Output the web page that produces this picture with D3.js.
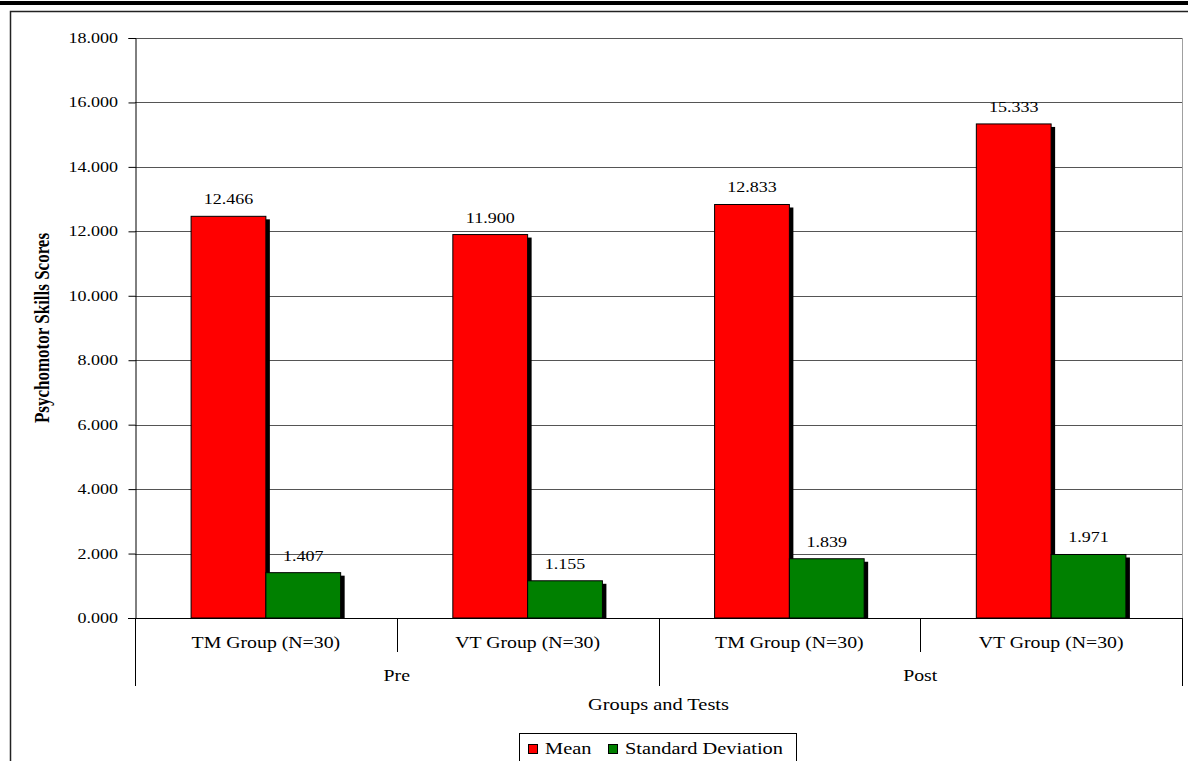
<!DOCTYPE html>
<html>
<head>
<meta charset="utf-8">
<script src="https://cdn.jsdelivr.net/npm/d3@7"></script>
<style>
  html, body { margin: 0; padding: 0; background: #fff; }
  svg { display: block; }
  text { font-family: "Liberation Serif", "Times New Roman", serif; fill: #000; }
</style>
</head>
<body>
<svg id="chart" width="1188" height="761"></svg>
<script>
// Groups, tests and scores
const groups = ["TM Group (N=30)", "VT Group (N=30)", "TM Group (N=30)", "VT Group (N=30)"];
const tests = ["Pre", "Post"];
const seriesNames = ["Mean", "Standard Deviation"];
const meanValues = [12.466, 11.900, 12.833, 15.333];
const sdValues = [1.407, 1.155, 1.839, 1.971];
const yTicks = [0, 2, 4, 6, 8, 10, 12, 14, 16, 18];
const seriesColors = ["#ff0000", "#008000"];

const svg = d3.select("#chart");
const SX = 1.2; // horizontal text stretch

const plotLeft = 135, plotRight = 1182, plotTop = 38, plotBottom = 618;

const y = d3.scaleLinear().domain([0, 18]).range([plotBottom, plotTop]);
const x0 = d3.scaleBand().domain(d3.range(groups.length)).range([plotLeft, plotRight]).padding(0);
const x1 = d3.scaleBand().domain(seriesNames).range([0, x0.bandwidth()])
  .paddingInner(0).paddingOuter(0.75);
const color = d3.scaleOrdinal().domain(seriesNames).range(seriesColors);

function label(g, x, yy, str, opts = {}) {
  const t = g.append("text")
    .attr("transform", `translate(${x},${yy}) scale(${SX},1)` + (opts.rotate ? ` rotate(${opts.rotate})` : ""))
    .attr("text-anchor", opts.anchor || "middle")
    .style("font-size", (opts.size || 16) + "px")
    .text(str);
  if (opts.bold) t.style("font-weight", "bold");
  if (opts.baseline) t.attr("dominant-baseline", opts.baseline);
  return t;
}

// Page band and outer frame
svg.append("rect").attr("x", 0).attr("y", 1).attr("width", 1188).attr("height", 4).attr("fill", "#000");
svg.append("path").attr("d", "M10.5,770 V11.5 H1200").attr("fill", "none")
  .attr("stroke", "#222").attr("stroke-width", 1.5);

// Plot area right border
svg.append("line").attr("x1", plotRight + 0.5).attr("x2", plotRight + 0.5).attr("y1", plotTop).attr("y2", plotBottom)
  .attr("stroke", "#a0a0a0").attr("stroke-width", 1);

// Gridlines
svg.append("g").selectAll("line").data(yTicks.filter(d => d > 0)).join("line")
  .attr("x1", plotLeft).attr("x2", plotRight)
  .attr("y1", d => Math.round(y(d)) + 0.5).attr("y2", d => Math.round(y(d)) + 0.5)
  .attr("stroke", "#555").attr("stroke-width", 1);

// Y axis
const yAxis = svg.append("g")
  .attr("transform", `translate(${plotLeft + 0.5},0)`)
  .call(d3.axisLeft(y).tickValues(yTicks).tickSize(7).tickPadding(0).tickFormat(() => ""));
yAxis.select(".domain").attr("stroke", "#000");
yAxis.selectAll(".tick line").attr("stroke", "#000");
const yLab = svg.append("g");
yTicks.forEach(v => label(yLab, 118, y(v), d3.format(".3f")(v), { anchor: "end", size: 15, baseline: "central" }));

// Bars: shadow first, then the bar itself
const barData = [];
groups.forEach((g, i) => {
  barData.push({ i, s: seriesNames[0], v: meanValues[i] });
  barData.push({ i, s: seriesNames[1], v: sdValues[i] });
});
const bars = svg.append("g");
bars.append("defs").append("clipPath").attr("id", "plotClip")
  .append("rect").attr("x", plotLeft).attr("y", 0).attr("width", plotRight - plotLeft + 10).attr("height", plotBottom);
barData.forEach(d => {
  const bx = x0(d.i) + x1(d.s), bw = x1.bandwidth();
  const by = y(d.v), bh = plotBottom - y(d.v);
  bars.append("rect").attr("clip-path", "url(#plotClip)")
    .attr("x", bx + 4).attr("y", by + 3).attr("width", bw).attr("height", bh)
    .attr("fill", "#000");
  bars.append("rect")
    .attr("x", bx).attr("y", by).attr("width", bw).attr("height", bh)
    .attr("fill", color(d.s)).attr("stroke", "#000").attr("stroke-width", 1);
});

// Value labels
const vLab = svg.append("g");
barData.forEach(d => {
  label(vLab, x0(d.i) + x1(d.s) + x1.bandwidth() / 2, y(d.v) - 12, d3.format(".3f")(d.v), { size: 15 });
});

// Category axis
const ax = svg.append("g").attr("stroke", "#000").attr("stroke-width", 1);
ax.append("line").attr("x1", plotLeft - 7).attr("x2", plotRight + 1).attr("y1", plotBottom + 0.5).attr("y2", plotBottom + 0.5);
d3.range(groups.length + 1).forEach(k => {
  const xx = Math.round(plotLeft + k * x0.bandwidth()) + 0.5;
  const long = k % 2 === 0;
  ax.append("line").attr("x1", xx).attr("x2", xx).attr("y1", plotBottom).attr("y2", long ? 686 : 652);
});
const cLab = svg.append("g");
groups.forEach((g, i) => label(cLab, x0(i) + x0.bandwidth() / 2, 648, g, { size: 16.5 }));
tests.forEach((t, j) => {
  const cx = (x0(j * 2) + x0(j * 2 + 1) + x0.bandwidth()) / 2;
  label(cLab, cx, 681, t, { size: 16.5 });
});

// Axis titles
label(svg, (plotLeft + plotRight) / 2, 710, "Groups and Tests", { size: 17 });
label(svg, 49, 328, "Psychomotor Skills Scores", { size: 17, bold: true, rotate: -90 });

// Legend
const lg = svg.append("g");
lg.append("rect").attr("x", 519.5).attr("y", 733.5).attr("width", 277).attr("height", 40)
  .attr("fill", "#fff").attr("stroke", "#000").attr("stroke-width", 1);
const legendX = [528, 608];
seriesNames.forEach((s, k) => {
  lg.append("rect").attr("x", legendX[k] + 0.5).attr("y", 744.5).attr("width", 9).attr("height", 9)
    .attr("fill", color(s)).attr("stroke", "#000").attr("stroke-width", 1);
  label(lg, legendX[k] + 17, 754, s, { size: 17, anchor: "start" });
});
</script>
</body>
</html>
